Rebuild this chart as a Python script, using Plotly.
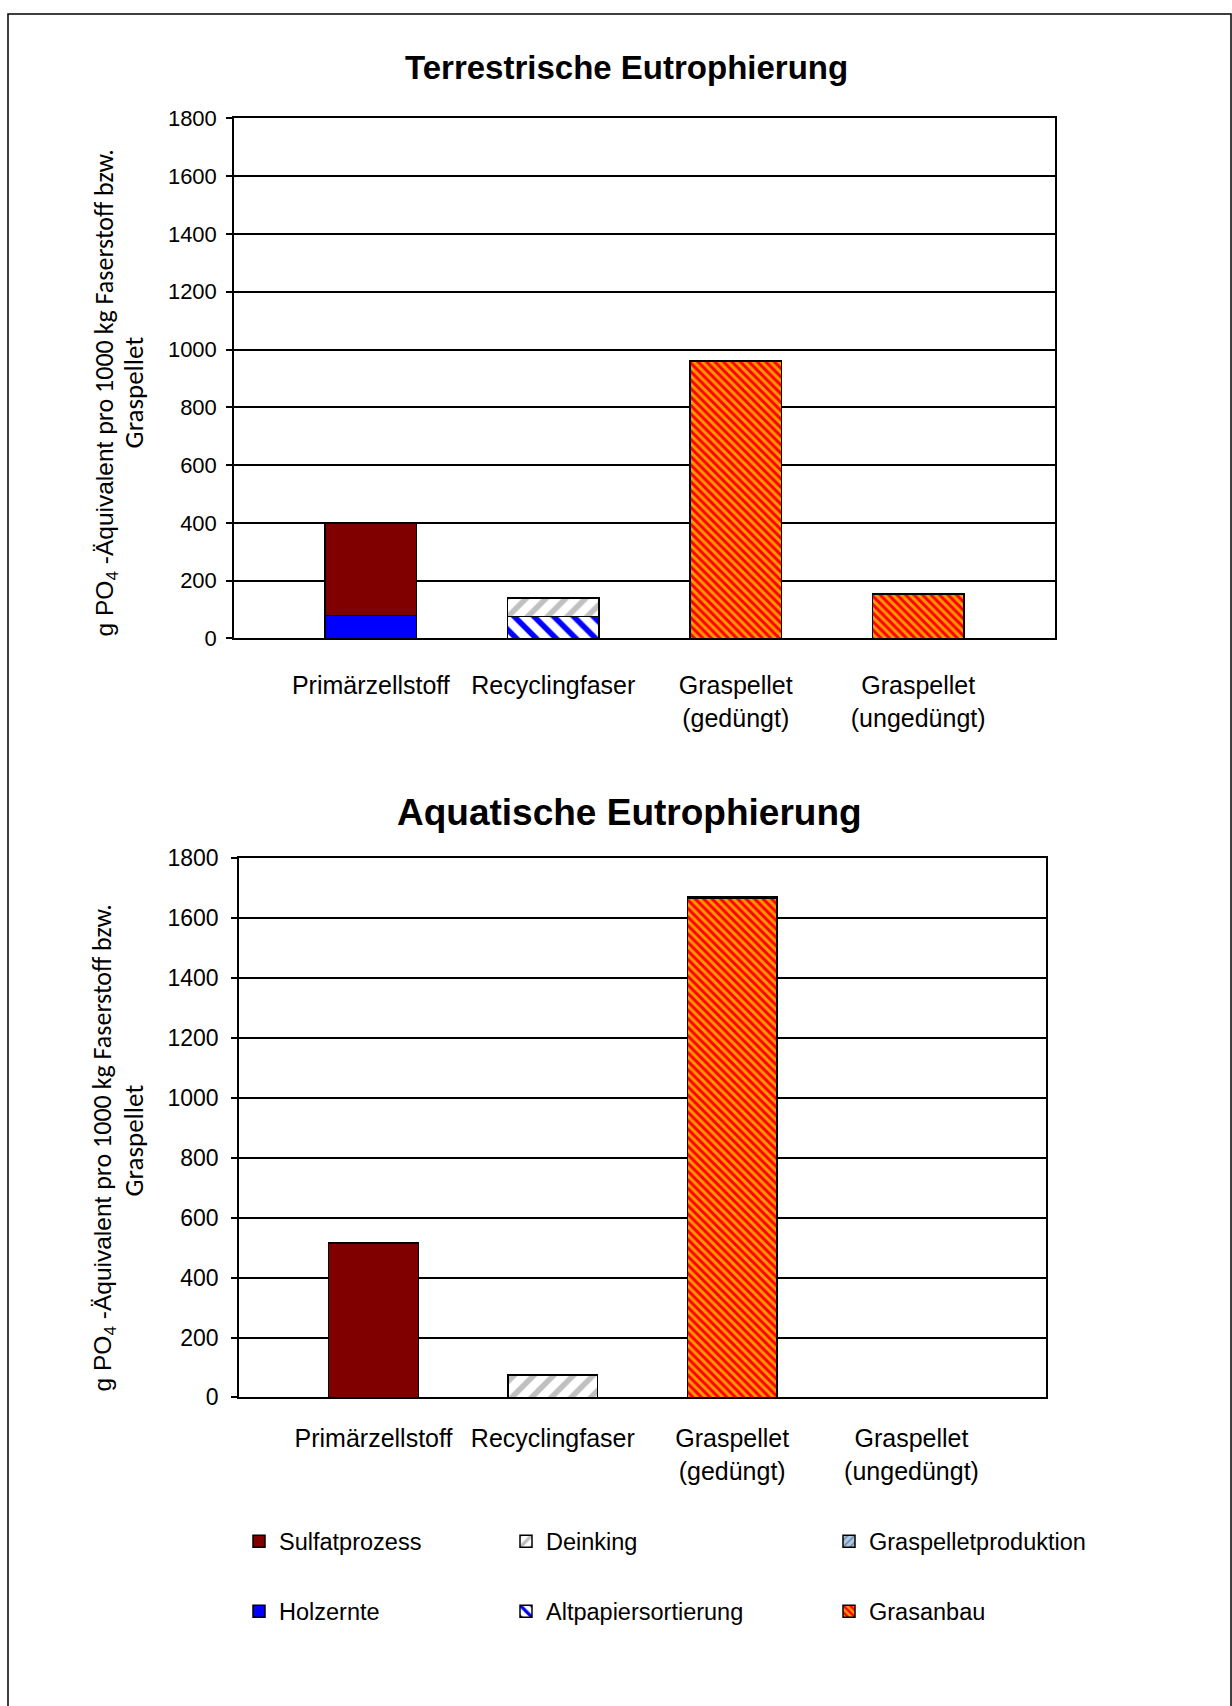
import plotly.graph_objects as go

W, H = 1232, 1706

categories = ["Primärzellstoff", "Recyclingfaser", "Graspellet<br>(gedüngt)", "Graspellet<br>(ungedüngt)"]
y_tick_values = [0, 200, 400, 600, 800, 1000, 1200, 1400, 1600, 1800]

# Terrestrische Eutrophierung (g PO4-eq)
terr_holzernte = [80, None, None, None]
terr_sulfatprozess = [320, None, None, None]
terr_altpapiersortierung = [None, 75, None, None]
terr_deinking = [None, 65, None, None]
terr_grasanbau = [None, None, 958, 152]
terr_graspelletproduktion = [None, None, 4, 4]

# Aquatische Eutrophierung (g PO4-eq)
aqua_holzernte = [None, None, None, None]
aqua_sulfatprozess = [515, None, None, None]
aqua_altpapiersortierung = [None, None, None, None]
aqua_deinking = [None, 75, None, None]
aqua_grasanbau = [None, None, 1668, None]
aqua_graspelletproduktion = [None, None, 5, None]

series_names = ["Holzernte", "Sulfatprozess", "Altpapiersortierung", "Deinking", "Grasanbau", "Graspelletproduktion"]

styles = {
    "Holzernte": dict(color="#0000FF"),
    "Sulfatprozess": dict(color="#800000"),
    "Altpapiersortierung": dict(color="#FFFFFF", pattern=dict(shape="\\", fgcolor="#0000FF", bgcolor="#FFFFFF", size=14, solidity=0.4, fillmode="replace")),
    "Deinking": dict(color="#FFFFFF", pattern=dict(shape="/", fgcolor="#C0C0C0", bgcolor="#FFFFFF", size=14, solidity=0.4, fillmode="replace")),
    "Grasanbau": dict(color="#FF9900", pattern=dict(shape="\\", fgcolor="#FF0000", bgcolor="#FF9900", size=6, solidity=0.5, fillmode="replace")),
    "Graspelletproduktion": dict(color="#A6CAF0", pattern=dict(shape="/", fgcolor="#808080", bgcolor="#A6CAF0", size=6, solidity=0.3, fillmode="replace")),
}
legend_ids = {
    "Sulfatprozess": "legend", "Holzernte": "legend2",
    "Deinking": "legend3", "Altpapiersortierung": "legend4",
    "Graspelletproduktion": "legend5", "Grasanbau": "legend6",
}

terr_data = dict(zip(series_names, [terr_holzernte, terr_sulfatprozess, terr_altpapiersortierung,
                                     terr_deinking, terr_grasanbau, terr_graspelletproduktion]))
aqua_data = dict(zip(series_names, [aqua_holzernte, aqua_sulfatprozess, aqua_altpapiersortierung,
                                     aqua_deinking, aqua_grasanbau, aqua_graspelletproduktion]))

def make_marker(name):
    st = styles[name]
    marker = dict(color=st["color"], line=dict(color="#000000", width=1.5))
    if "pattern" in st:
        marker["pattern"] = st["pattern"]
    return marker

fig = go.Figure()
for name in series_names:
    fig.add_trace(go.Bar(x=categories, y=terr_data[name], name=name, marker=make_marker(name),
                         width=0.5, xaxis="x", yaxis="y", showlegend=False))
for name in series_names:
    fig.add_trace(go.Bar(x=categories, y=aqua_data[name], name=name, marker=make_marker(name),
                         width=0.5, xaxis="x2", yaxis="y2", showlegend=True,
                         legend=legend_ids[name]))

def px_x(p):
    return p / W

def px_y(p):
    q = 1.0155 * p - 12.8
    q = min(max(q, 1.0), H - 1.0)
    return 1 - q / H

font_main = "Liberation Sans, Arial, sans-serif"
font_cal = "Carlito, Lato, sans-serif"

xcommon = dict(type="category", range=[-0.75, 3.75], showgrid=False, ticks="",
               showline=True, linecolor="#000000", linewidth=1.5, mirror=True,
               tickfont=dict(family=font_main, size=25, color="#000000"))
ycommon = dict(range=[0, 1800], tickvals=y_tick_values, showgrid=True, gridcolor="#000000",
               gridwidth=1.5, zeroline=False, showline=True, linecolor="#000000", linewidth=1.5,
               mirror=True, ticks="outside", ticklen=6, tickcolor="#000000", tickwidth=1.5)

fig.update_layout(
    width=W, height=H,
    margin=dict(l=0, r=0, t=0, b=0),
    paper_bgcolor="#FFFFFF", plot_bgcolor="#FFFFFF",
    barmode="stack",
    xaxis=dict(domain=[px_x(234), px_x(1055)], anchor="y", ticklabelstandoff=24, **xcommon),
    yaxis=dict(domain=[px_y(638), px_y(118)], anchor="x", ticklabelstandoff=5,
               tickfont=dict(family=font_main, size=22, color="#000000"), **ycommon),
    xaxis2=dict(domain=[px_x(239), px_x(1046)], anchor="y2", ticklabelstandoff=18, **xcommon),
    yaxis2=dict(domain=[px_y(1397), px_y(858)], anchor="x2", ticklabelstandoff=8,
                tickfont=dict(family=font_main, size=23, color="#000000"), **ycommon),
)

leg_font = dict(family=font_main, size=23.5, color="#000000")
leg_pos = {
    "legend": (239, 1541), "legend2": (239, 1611),
    "legend3": (506, 1541), "legend4": (506, 1611),
    "legend5": (829, 1541), "legend6": (829, 1611),
}
for lid, (lx, ly) in leg_pos.items():
    fig.update_layout({lid: dict(x=px_x(lx), y=px_y(ly), xanchor="left", yanchor="middle",
                                 font=leg_font, bgcolor="rgba(0,0,0,0)", borderwidth=0,
                                 itemwidth=30)})

fig.add_annotation(text="<b>Terrestrische Eutrophierung</b>", x=px_x(626), y=px_y(67),
                   xref="paper", yref="paper", showarrow=False, xanchor="center", yanchor="middle",
                   font=dict(family=font_main, size=33, color="#000000"))
fig.add_annotation(text="<b>Aquatische Eutrophierung</b>", x=px_x(629), y=px_y(812),
                   xref="paper", yref="paper", showarrow=False, xanchor="center", yanchor="middle",
                   font=dict(family=font_main, size=37, color="#000000"))

ytitle_line1 = ("g PO<sub>4</sub> -Äquivalent "
                "<span style='font-family:Carlito, Lato, sans-serif;font-size:26px'>pro 1000 kg Faserstoff bzw.</span>")
ytitle_line2 = "Graspellet"
for (x1, y1, x2, y2) in [(105, 393, 133, 392), (103, 1148, 133, 1140)]:
    fig.add_annotation(text=ytitle_line1, x=px_x(x1), y=px_y(y1), xref="paper", yref="paper",
                       showarrow=False, textangle=-90, xanchor="center", yanchor="middle",
                       font=dict(family=font_main, size=24.5, color="#000000"))
    fig.add_annotation(text=ytitle_line2, x=px_x(x2), y=px_y(y2), xref="paper", yref="paper",
                       showarrow=False, textangle=-90, xanchor="center", yanchor="middle",
                       font=dict(family=font_cal, size=27, color="#000000"))

fig.add_shape(type="rect", xref="paper", yref="paper",
              x0=px_x(8), x1=px_x(1231), y0=-0.01, y1=px_y(6),
              line=dict(color="#000000", width=1.5), fillcolor="rgba(0,0,0,0)", layer="below")

post = ("document.documentElement.style.margin='0px';document.body.style.margin='0px';"
        "document.body.style.padding='0px';"
        "var gd=document.getElementById('{plot_id}');"
        "gd.style.position='fixed';gd.style.top='0px';gd.style.left='0px';")
fig.write_html("out.html", post_script=post, config={"displayModeBar": False})
